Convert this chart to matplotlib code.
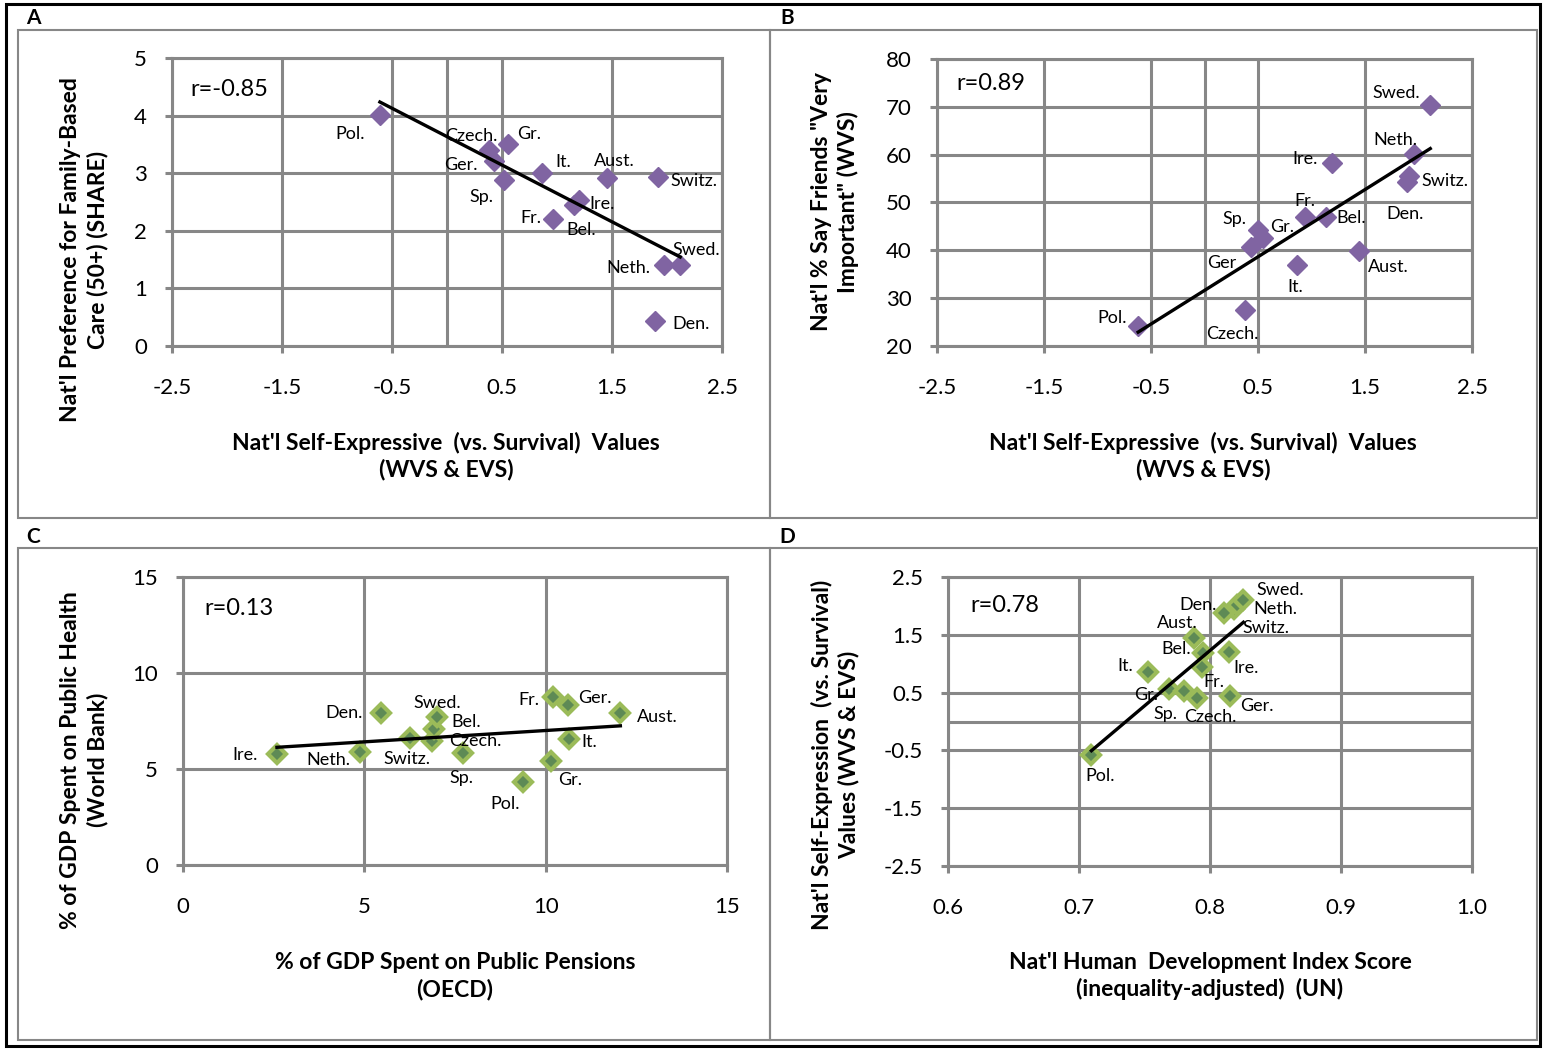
"""
Four-panel scatter of national values vs. care preference, friends,
public spending and human development (A-D), with OLS trend lines.
"""

import numpy as np
import matplotlib.pyplot as plt
from matplotlib.patches import Rectangle

plt.rcParams["font.family"] = ["Lato", "DejaVu Sans"]

# ---- data ----
countries = ["Pol.", "Czech.", "Gr.", "Ger.", "Sp.", "It.", "Aust.",
             "Switz.", "Ire.", "Bel.", "Fr.", "Neth.", "Swed.", "Den."]
countries_b = ["Pol.", "Czech.", "Gr.", "Ger", "Sp.", "It.", "Aust.",
               "Switz.", "Ire.", "Bel.", "Fr.", "Neth.", "Swed.", "Den."]

# A: self-expressive values vs preference for family-based care
a_x = [-0.61, 0.38, 0.55, 0.43, 0.52, 0.86, 1.45, 1.92, 1.20, 1.15, 0.96, 1.97, 2.12, 1.89]
a_y = [4.01, 3.40, 3.51, 3.22, 2.88, 3.00, 2.92, 2.93, 2.53, 2.45, 2.20, 1.41, 1.41, 0.44]

# B: self-expressive values vs % say friends very important
b_x = [-0.62, 0.38, 0.55, 0.43, 0.50, 0.86, 1.44, 1.91, 1.19, 1.14, 0.94, 1.96, 2.11, 1.89]
b_y = [24.2, 27.5, 42.6, 40.8, 44.3, 37.0, 39.9, 55.6, 58.3, 47.0, 47.0, 60.2, 70.4, 54.2]

# C: public pensions vs public health (% of GDP)
c_x = [9.37, 6.87, 10.15, 10.61, 7.71, 10.63, 12.06, 6.25, 2.59, 6.93, 10.21, 4.89, 7.01, 5.46]
c_y = [4.34, 6.46, 5.42, 8.33, 5.82, 6.55, 7.90, 6.63, 5.77, 7.07, 8.77, 5.90, 7.72, 7.93]

# D: inequality-adjusted HDI vs self-expression values
d_x = [0.7095, 0.7904, 0.769, 0.815, 0.780, 0.7526, 0.7876, 0.818, 0.8142, 0.7945, 0.794, 0.8205, 0.8255, 0.811]
d_y = [-0.58, 0.40, 0.57, 0.44, 0.53, 0.86, 1.44, 1.94, 1.21, 1.18, 0.94, 2.02, 2.10, 1.88]

r_labels = ["r=-0.85", "r=0.89", "r=0.13", "r=0.78"]

# label offsets in pixels (dx, dy), same order as countries
off_a = [(-30, -19), (-17, 14), (22, 10), (-33, -4), (-23, -17), (22, 11), (8, 17),
         (36, -4), (23, -4), (8, -25), (-22, 1), (-35, -3), (16, 15), (36, -3)]
off_b = [(-26, 8), (-13, -24), (19, 11), (-29, -16), (-24, 11), (-1, -22), (30, -16),
         (36, -5), (-27, 4), (25, -1), (0, 16), (-19, 14), (-34, 12), (-2, -32)]
off_c = [(-18, -22), (43, 0), (19, -19), (27, 7), (-1, -25), (21, -3), (37, -4),
         (-3, -21), (-32, -1), (32, 7), (-24, -3), (-32, -8), (0, 14), (-37, 0)]
off_d = [(9, -21), (13, -19), (-23, -6), (27, -10), (-18, -23), (-23, 6), (-16, 15),
         (32, -19), (17, -16), (-27, 4), (12, -15), (39, -4), (37, 10), (-26, 8)]

W, H = 1543, 1050
GRID = "#878787"
PURPLE = "#8064A2"
GREEN_FACE = "#5E8A55"
GREEN_EDGE = "#9BBB59"

fig = plt.figure(figsize=(W / 100, H / 100), dpi=100)


def px_axes(left, top, right, bottom):
    return fig.add_axes([left / W, 1 - bottom / H, (right - left) / W, (bottom - top) / H])


def fig_box(x0, y0, x1, y1, color, lw):
    fig.patches.append(Rectangle((x0 / W, 1 - y1 / H), (x1 - x0) / W, (y1 - y0) / H,
                                 transform=fig.transFigure, fill=False,
                                 edgecolor=color, linewidth=lw))


# outer frame and panel frames
fig_box(6, 4, 1540, 1046, "black", 2.2)
fig_box(18, 30, 770, 518, GRID, 1.5)
fig_box(770, 30, 1537, 518, GRID, 1.5)
fig_box(18, 548, 770, 1040, GRID, 1.5)
fig_box(770, 548, 1537, 1040, GRID, 1.5)
for lab, x, y in [("A", 33, 18), ("B", 787, 18), ("C", 33, 537), ("D", 787, 537)]:
    fig.text(x / W, 1 - y / H, lab, ha="center", va="center", fontsize=15, fontweight="bold")


def panel(ax, xs, ys, names, offs, r_text, r_pos, xlim, ylim, xticks, yticks,
          xfmt, yfmt, style, extra_v=None, extra_h=None):
    ax.set_xlim(xlim)
    ax.set_ylim(ylim)
    ax.set_xticks(xticks)
    ax.set_yticks(yticks)
    ax.set_xticklabels([xfmt.format(v) for v in xticks])
    ax.set_yticklabels([yfmt.format(v) for v in yticks])
    ax.grid(True, color=GRID, linewidth=2.2)
    ax.set_axisbelow(True)
    for s in ax.spines.values():
        s.set_color(GRID)
        s.set_linewidth(2.2)
    if extra_v is not None:
        ax.axvline(extra_v, color=GRID, linewidth=2.2, zorder=0.5)
    if extra_h is not None:
        ax.axhline(extra_h, color=GRID, linewidth=2.2, zorder=0.5)
    ax.tick_params(axis="x", length=5, width=2.2, color=GRID, pad=18, labelsize=16)
    ax.tick_params(axis="y", length=5, width=2.2, color=GRID, pad=13, labelsize=16)

    # trend line
    xs_a = np.array(xs)
    k, b = np.polyfit(xs_a, np.array(ys), 1)
    xl = np.array([xs_a.min(), xs_a.max()])
    ax.plot(xl, k * xl + b, color="black", linewidth=2.4, zorder=4)

    if style == "purple":
        ax.plot(xs, ys, "D", ms=10.5, color=PURPLE, mec=PURPLE, zorder=3)
    else:
        ax.plot(xs, ys, "D", ms=9.5, mfc=GREEN_FACE, mec=GREEN_EDGE, mew=3, zorder=3)

    for n, x, y, (dx, dy) in zip(names, xs, ys, offs):
        ax.annotate(n, (x, y), xytext=(dx, dy), textcoords="offset pixels",
                    ha="center", va="center", fontsize=13, zorder=5)
    ax.text(r_pos[0], r_pos[1], r_text, transform=ax.transAxes,
            ha="left", va="center", fontsize=17)


ax_a = px_axes(172, 58, 722, 346)
panel(ax_a, a_x, a_y, countries, off_a, r_labels[0], (0.033, 0.889),
      (-2.5, 2.5), (0, 5), [-2.5, -1.5, -0.5, 0.5, 1.5, 2.5], [0, 1, 2, 3, 4, 5],
      "{:.1f}", "{:d}", "purple", extra_v=0)

ax_b = px_axes(937, 59, 1472, 346)
panel(ax_b, b_x, b_y, countries_b, off_b, r_labels[1], (0.037, 0.916),
      (-2.5, 2.5), (20, 80), [-2.5, -1.5, -0.5, 0.5, 1.5, 2.5], [20, 30, 40, 50, 60, 70, 80],
      "{:.1f}", "{:d}", "purple", extra_v=0)

ax_c = px_axes(183, 577, 727, 865)
panel(ax_c, c_x, c_y, countries, off_c, r_labels[2], (0.04, 0.892),
      (0, 15), (0, 15), [0, 5, 10, 15], [0, 5, 10, 15],
      "{:d}", "{:d}", "green")

ax_d = px_axes(948, 577, 1472, 866)
panel(ax_d, d_x, d_y, countries, off_d, r_labels[3], (0.042, 0.903),
      (0.6, 1.0), (-2.5, 2.5), [0.6, 0.7, 0.8, 0.9, 1.0], [-2.5, -1.5, -0.5, 0.5, 1.5, 2.5],
      "{:.1f}", "{:.1f}", "green", extra_h=0)

# axis titles
tkw = dict(ha="center", va="center", fontsize=16.5, fontweight="bold",
           multialignment="center", linespacing=1.3)
fig.text(84 / W, 1 - 250 / H, "Nat'l Preference for Family-Based\nCare (50+) (SHARE)", rotation=90, **tkw)
fig.text(446 / W, 1 - 456 / H, "Nat'l Self-Expressive  (vs. Survival)  Values\n(WVS & EVS)", **tkw)
fig.text(835 / W, 1 - 202 / H, "Nat'l % Say Friends \"Very\nImportant\" (WVS)", rotation=90, **tkw)
fig.text(1203 / W, 1 - 456 / H, "Nat'l Self-Expressive  (vs. Survival)  Values\n(WVS & EVS)", **tkw)
fig.text(84 / W, 1 - 760 / H, "% of GDP Spent on Public Health\n(World Bank)", rotation=90, **tkw)
fig.text(455 / W, 1 - 976 / H, "% of GDP Spent on Public Pensions\n(OECD)", **tkw)
fig.text(835 / W, 1 - 755 / H, "Nat'l Self-Expression  (vs. Survival)\nValues (WVS & EVS)", rotation=90, **tkw)
fig.text(1210 / W, 1 - 976 / H, "Nat'l Human  Development Index Score\n(inequality-adjusted)  (UN)", **tkw)

plt.savefig("out.png", dpi=100)
